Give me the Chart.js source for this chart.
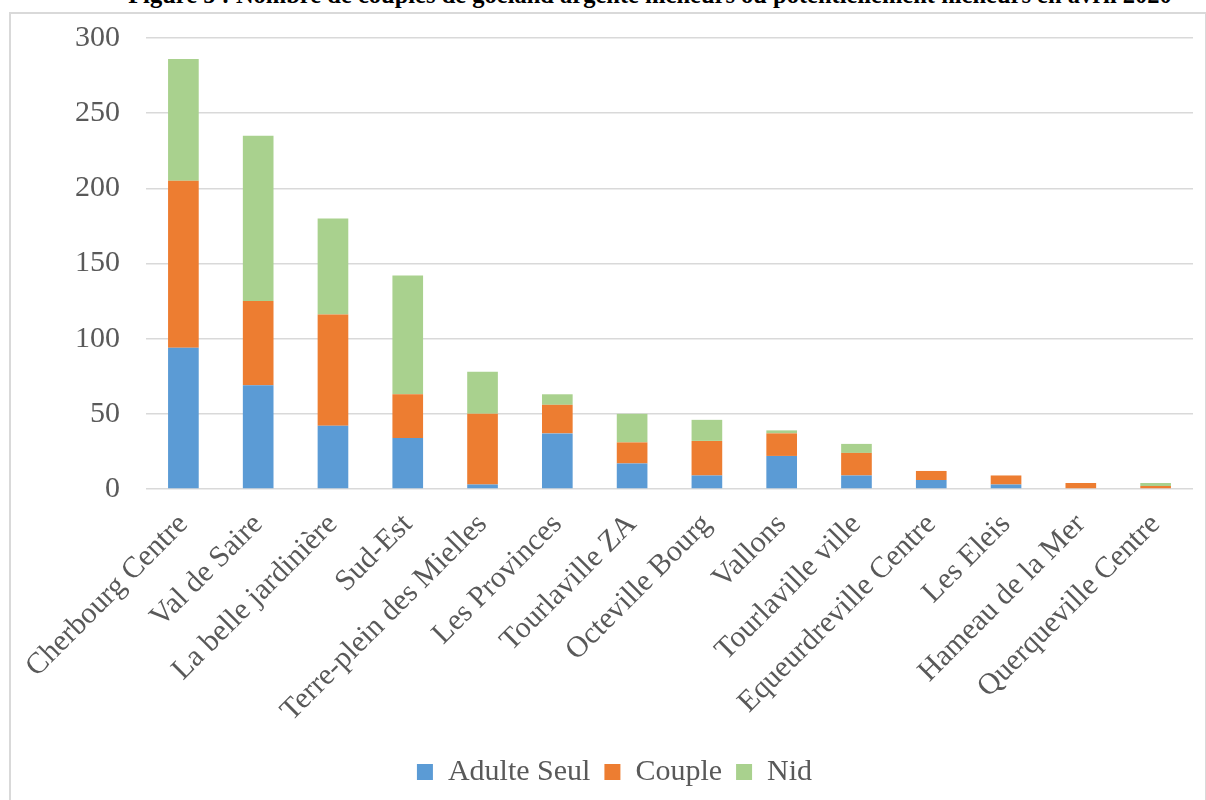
<!DOCTYPE html>
<html lang="fr">
<head>
<meta charset="utf-8">
<title>Goéland argenté - avril 2020</title>
<script src="https://cdn.jsdelivr.net/npm/chart.js@4/dist/chart.umd.min.js"></script>
<style>
html, body { margin: 0; padding: 0; background: #fff; overflow: hidden; }
#wrap { position: relative; width: 1206px; height: 800px; overflow: hidden; }
#frame {
  position: absolute; left: 9px; top: 12px; width: 1194px; height: 800px;
  border: 2px solid #d9d9d9;
}
#titre {
  position: absolute; left: 0; top: -17px; width: 1300px; text-align: center;
  font: bold 24.5px/24px "Liberation Serif", "Times New Roman", serif; color: #000;
  white-space: nowrap;
}
#graph { position: absolute; left: 0; top: 0; }
</style>
</head>
<body>
<div id="wrap">
  <div id="titre">Figure 5 : Nombre de couples de goéland argenté nicheurs ou potentiellement nicheurs en avril 2020</div>
  <div id="frame"></div>
  <canvas id="graph" width="1206" height="800"></canvas>
</div>
<script>
/* secteurs et effectifs */
const secteurs = [
  "Cherbourg Centre", "Val de Saire", "La belle jardinière", "Sud-Est",
  "Terre-plein des Mielles", "Les Provinces", "Tourlaville ZA", "Octeville Bourg",
  "Vallons", "Tourlaville ville", "Equeurdreville Centre", "Les Eleis",
  "Hameau de la Mer", "Querqueville Centre"
];
const adulteSeul = [94, 69, 42, 34, 3, 37, 17, 9, 22, 9, 6, 3, 0, 0];
const couple     = [111, 56, 74, 29, 47, 19, 14, 23, 15, 15, 6, 6, 4, 2];
const nid        = [81, 110, 64, 79, 28, 7, 19, 14, 2, 6, 0, 0, 0, 2];

const graduations = [0, 50, 100, 150, 200, 250, 300];

const police = "'Liberation Serif', 'Times New Roman', serif";
const gris = "#595959";

Chart.defaults.font.family = police;
Chart.defaults.color = gris;

new Chart(document.getElementById("graph"), {
  type: "bar",
  data: {
    labels: secteurs,
    datasets: [
      { label: "Adulte Seul", data: adulteSeul, backgroundColor: "#5b9bd5" },
      { label: "Couple", data: couple, backgroundColor: "#ed7d31" },
      { label: "Nid", data: nid, backgroundColor: "#a9d18e" }
    ]
  },
  options: {
    responsive: false,
    animation: false,
    devicePixelRatio: 1,
    // marge gauche plus large pour recentrer la légende, l'axe y compense
    layout: { padding: { left: 36, right: 13, top: 38, bottom: 3 } },
    datasets: { bar: { categoryPercentage: 1, barPercentage: 0.41, borderWidth: 0 } },
    scales: {
      x: {
        stacked: true,
        grid: { display: false },
        border: { display: false },
        ticks: {
          autoSkip: false, maxRotation: 45, minRotation: 45,
          padding: 10, color: gris, font: { size: 30 }
        },
        afterFit: (axe) => { axe.height = 254; }
      },
      y: {
        stacked: true,
        min: 0,
        max: graduations[graduations.length - 1],
        afterBuildTicks: (axe) => { axe.ticks = graduations.map(v => ({ value: v })); },
        grid: { color: "#d9d9d9", lineWidth: 1.5, drawTicks: false },
        border: { display: false },
        ticks: { padding: 26, color: gris, font: { size: 30 } },
        afterFit: (axe) => {
          axe.width = 110;
          axe.paddingTop = 0;
          axe.paddingBottom = 0;
        }
      }
    },
    plugins: {
      tooltip: { enabled: false },
      legend: {
        position: "bottom",
        labels: {
          boxWidth: 16, boxHeight: 16, padding: 14,
          color: gris, font: { size: 30 }
        }
      }
    }
  }
});
</script>
</body>
</html>
